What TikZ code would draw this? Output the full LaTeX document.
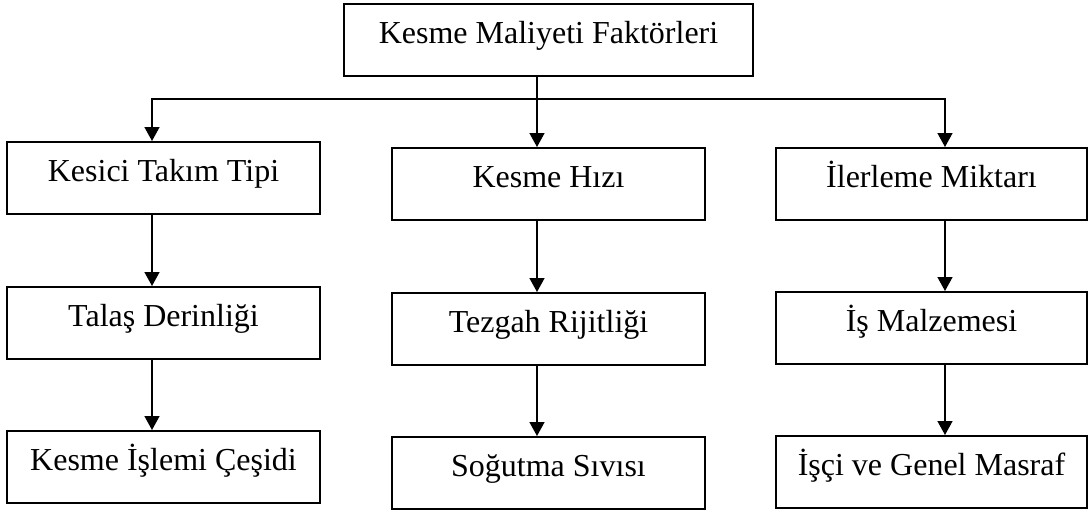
\documentclass[tikz,border=0pt]{standalone}
\usepackage{fontspec}
\setmainfont{Liberation Serif}
\usetikzlibrary{arrows.meta}

\begin{document}
\begin{tikzpicture}[x=0.5pt,y=-0.5pt,
  kutu/.style={draw,line width=0.75pt,inner sep=0pt,minimum width=156.5pt,
    text height=20pt,text depth=16pt,anchor=north,font=\fontsize{16}{19}\selectfont},
  ok/.style={-{Triangle[width=7.5pt,length=7pt]},line width=0.75pt}]
\useasboundingbox (0,0) rectangle (1088,510);
\node[kutu,minimum width=204.5pt] (ana) at (548.5,3) {Kesme Maliyeti Faktörleri};
% left column
\node[kutu] (takim) at (163.5,141) {Kesici Takım Tipi};
\node[kutu] (talas) at (163.5,286) {Talaş Derinliği};
\node[kutu] (islem) at (163.5,430) {Kesme İşlemi Çeşidi};
% middle column
\node[kutu] (hiz) at (548.5,147) {Kesme Hızı};
\node[kutu] (rijit) at (548.5,292) {Tezgah Rijitliği};
\node[kutu] (sivi) at (548.5,436) {Soğutma Sıvısı};
% right column
\node[kutu,minimum width=155.5pt] (ilerleme) at (931.5,147) {İlerleme Miktarı};
\node[kutu,minimum width=155.5pt] (malzeme) at (931.5,291) {İş Malzemesi};
\node[kutu,minimum width=155.5pt] (masraf) at (931.5,435) {İşçi ve Genel Masraf};
% branch points on the bar
\coordinate (orta) at (537,99);
\coordinate (sol) at (152,99);
\coordinate (sag) at (945,99);
\draw[ok] (orta |- ana.south) -- (orta |- hiz.north);
\draw[ok] (orta) -- (sol) -- (sol |- takim.north);
\draw[ok] (orta) -- (sag) -- (sag |- ilerleme.north);
% arrows down the columns
\draw[ok] (sol |- takim.south) -- (sol |- talas.north);
\draw[ok] (sol |- talas.south) -- (sol |- islem.north);
\draw[ok] (orta |- hiz.south) -- (orta |- rijit.north);
\draw[ok] (orta |- rijit.south) -- (orta |- sivi.north);
\draw[ok] (sag |- ilerleme.south) -- (sag |- malzeme.north);
\draw[ok] (sag |- malzeme.south) -- (sag |- masraf.north);
\end{tikzpicture}
\end{document}
